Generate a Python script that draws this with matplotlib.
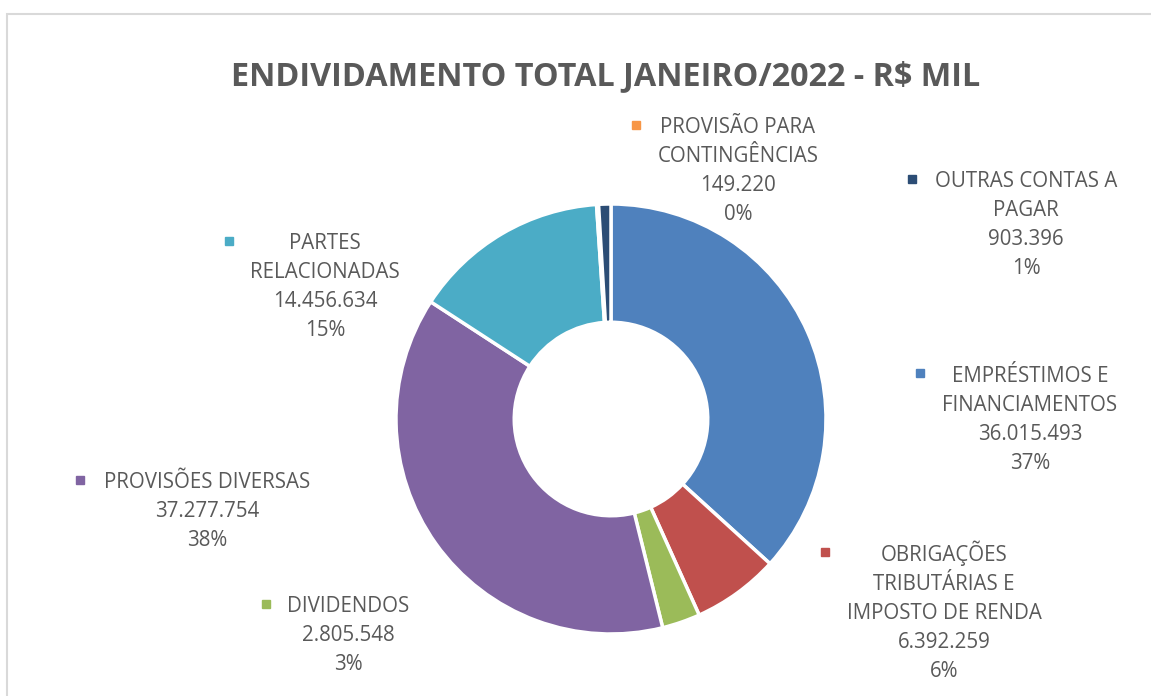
import matplotlib.pyplot as plt
from matplotlib.patches import Rectangle

# data (R$ mil), clockwise from 12 o'clock
categories = ['EMPRÉSTIMOS E\nFINANCIAMENTOS', 'OBRIGAÇÕES\nTRIBUTÁRIAS E\nIMPOSTO DE RENDA',
              'DIVIDENDOS', 'PROVISÕES DIVERSAS', 'PARTES\nRELACIONADAS',
              'PROVISÃO PARA\nCONTINGÊNCIAS', 'OUTRAS CONTAS A\nPAGAR']
values = [36015493, 6392259, 2805548, 37277754, 14456634, 149220, 903396]
percents = ['37%', '6%', '3%', '38%', '15%', '0%', '1%']  # as printed on the chart
colors = ['#4F81BD', '#C0504D', '#9BBB59', '#8064A2', '#4BACC6', '#F79646', '#2C4D75']

# label placement in pixels: text center x, first baseline y, marker x, marker y
label_pos = [(1030, 382, 920, 373), (944, 561, 825, 552), (348, 612, 266, 604),
             (207, 488, 80, 480), (325, 249, 229, 241), (738, 133, 636, 125),
             (1026, 187, 912, 179)]

W, H = 1151, 696
fig = plt.figure(figsize=(W / 100, H / 100), dpi=100)
txt_color = '#595959'
font = 'Open Sans'

def fx(x):
    return x / W

def fy(y):
    return 1 - y / H

# chart border (cut off at right and bottom like the original)
fig.patches.append(Rectangle((fx(7.5), fy(H + 20)), fx(W + 20), (H + 20 - 14.5) / H,
                             transform=fig.transFigure, fill=False,
                             edgecolor='#D9D9D9', linewidth=1.5))

cx, cy, r = 611, 419, 215
ax = fig.add_axes([fx(cx - r), fy(cy + r), 2 * r / W, 2 * r / H])
ax.pie(values, colors=colors, startangle=90, counterclock=False, radius=1,
       wedgeprops=dict(width=0.55, edgecolor='white', linewidth=2.5))
ax.set_xlim(-1, 1)
ax.set_ylim(-1, 1)
ax.set_aspect('equal')
ax.axis('off')

fig.text(fx(606), fy(85), 'ENDIVIDAMENTO TOTAL JANEIRO/2022 - R$ MIL', ha='center',
         va='baseline', fontsize=23.3, fontweight='bold', color=txt_color, family=font)

for name, v, p, c, (tx, ty, mx, my) in zip(categories, values, percents, colors, label_pos):
    lines = name.split('\n') + [f'{v:,}'.replace(',', '.'), p]
    for i, line in enumerate(lines):
        fig.text(fx(tx), fy(ty + 29 * i), line, ha='center', va='baseline',
                 fontsize=14.8, color=txt_color, family=font)
    fig.patches.append(Rectangle((fx(mx - 4), fy(my + 4)), 8 / W, 8 / H,
                                 transform=fig.transFigure, color=c))

fig.savefig('out.png', dpi=100)
